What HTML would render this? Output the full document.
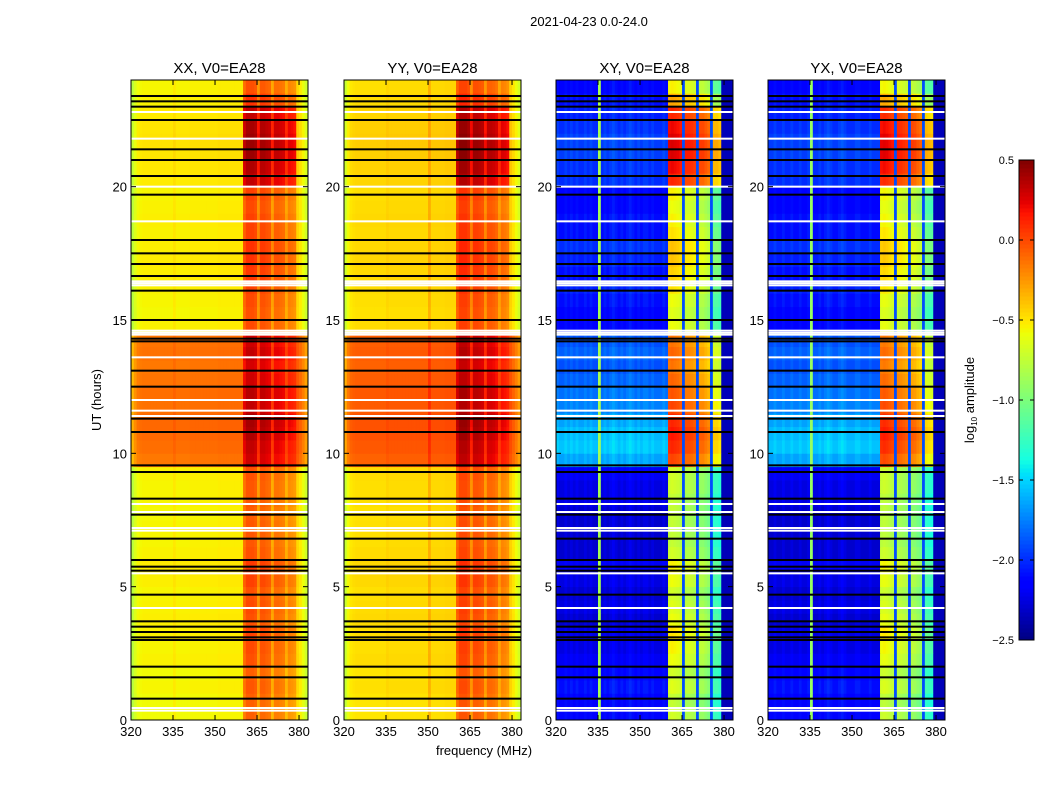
<!DOCTYPE html>
<html><head><meta charset="utf-8"><style>
body{margin:0;background:#fff;font-family:"Liberation Sans",sans-serif}
svg text{font-family:"Liberation Sans",sans-serif}
</style></head><body>
<svg id="fig" width="1050" height="800" xmlns="http://www.w3.org/2000/svg">
<rect width="1050" height="800" fill="#fff"/>
<text x="589" y="26" font-size="13" text-anchor="middle">2021-04-23 0.0-24.0</text>
<text x="101" y="400" font-size="13" text-anchor="middle" transform="rotate(-90 101 400)">UT (hours)</text>
<text x="484" y="755" font-size="13" text-anchor="middle">frequency (MHz)</text>
<g id="panels"></g>
<g id="cbar"></g>
<text x="974" y="400" font-size="13" text-anchor="middle" transform="rotate(-90 974 400)">log<tspan font-size="8" dy="3">10</tspan><tspan dy="-3"> amplitude</tspan></text>
</svg>
<script>
// ---- data ----
const panelTitles = ["XX, V0=EA28","YY, V0=EA28","XY, V0=EA28","YX, V0=EA28"];
const xTicks = [320,335,350,365,380];
const yTicks = [0,5,10,15,20];
const cbarTicks = [0.5,0.0,-0.5,-1.0,-1.5,-2.0,-2.5];
// frequency profiles, 1 MHz channels starting at 320 MHz
const freqXX = [-0.8,-0.68,-0.6,-0.58,-0.57,-0.57,-0.57,-0.57,-0.57,-0.57,-0.57,-0.57,-0.57,-0.57,-0.57,-0.53,-0.57,-0.57,-0.57,-0.57,-0.57,-0.56,-0.56,-0.56,-0.56,-0.56,-0.56,-0.56,-0.56,-0.56,-0.56,-0.55,-0.55,-0.55,-0.55,-0.55,-0.55,-0.55,-0.55,-0.55,-0.22,-0.12,-0.12,-0.12,-0.15,-0.35,-0.15,-0.15,-0.18,-0.2,-0.4,-0.22,-0.22,-0.24,-0.26,-0.42,-0.3,-0.32,-0.35,-0.48,-0.54,-0.62,-0.72,-0.82];
const freqYY = [-0.75,-0.6,-0.53,-0.51,-0.5,-0.5,-0.5,-0.5,-0.5,-0.5,-0.5,-0.5,-0.5,-0.5,-0.5,-0.47,-0.49,-0.49,-0.49,-0.49,-0.49,-0.49,-0.49,-0.49,-0.49,-0.49,-0.49,-0.49,-0.49,-0.49,-0.35,-0.48,-0.48,-0.48,-0.48,-0.48,-0.47,-0.47,-0.47,-0.47,-0.18,-0.08,-0.08,-0.08,-0.12,-0.32,-0.12,-0.12,-0.14,-0.16,-0.35,-0.18,-0.18,-0.2,-0.24,-0.4,-0.28,-0.3,-0.34,-0.46,-0.53,-0.61,-0.7,-0.78];
const freqXY = [-2.15,-2.2,-2.2,-2.15,-2.2,-2.15,-2.2,-2.15,-2.2,-2.2,-2.15,-2.2,-2.15,-2.2,-2.2,-0.85,-2.2,-2.15,-2.2,-2.15,-2.1,-2.15,-2.2,-2.15,-2.2,-2.15,-2.1,-2.15,-2.2,-2.15,-2.2,-2.15,-2.15,-2.2,-2.15,-2.2,-2.2,-2.2,-2.15,-2.2,-0.8,-0.78,-0.8,-0.82,-0.85,-1.9,-0.9,-0.9,-0.92,-0.95,-1.9,-1.0,-1.0,-1.05,-1.1,-1.9,-1.35,-1.35,-1.4,-2.35,-2.35,-2.35,-2.35,-2.35];
const freqYX = [-2.2,-2.2,-2.15,-2.2,-2.2,-2.15,-2.2,-2.2,-2.15,-2.2,-2.2,-2.15,-2.2,-2.2,-2.15,-0.9,-2.2,-2.2,-2.15,-2.2,-2.15,-2.1,-2.15,-2.2,-2.2,-2.15,-2.1,-2.15,-2.2,-2.2,-2.2,-2.15,-2.15,-2.2,-2.2,-2.2,-2.15,-2.2,-2.2,-2.2,-0.82,-0.8,-0.82,-0.85,-0.88,-1.9,-0.9,-0.92,-0.95,-0.98,-1.9,-1.0,-1.02,-1.08,-1.12,-1.9,-1.35,-1.38,-1.42,-2.35,-2.35,-2.35,-2.35,-2.35];
// column type: 0 continuum, 1 band, 2 fixed (no time variation)
const colTypeAuto = [0,0,0,0,0,0,0,0,0,0,0,0,0,0,0,0,0,0,0,0,0,0,0,0,0,0,0,0,0,0,0,0,0,0,0,0,0,0,0,0,1,1,1,1,1,1,1,1,1,1,1,1,1,1,1,1,1,1,1,0,0,0,0,0];
const colTypeCross = [0,0,0,0,0,0,0,0,0,0,0,0,0,0,0,2,0,0,0,0,0,0,0,0,0,0,0,0,0,0,0,0,0,0,0,0,0,0,0,0,1,1,1,1,1,2,1,1,1,1,2,1,1,1,1,2,1,1,1,2,2,2,2,2];
// time profiles, half-hour rows from 0 h
const contAuto = [0,0,0.02,0,0.03,0.02,0.03,0.04,0.03,0.02,0.04,0.05,0.03,0.02,0.02,0.01,0.02,0.02,0.03,0.42,0.45,0.47,0.47,0.44,0.45,0.43,0.42,0.44,0.43,0.03,0.01,0.02,0.03,0.04,0.05,0.04,0.03,0.04,0.03,0.02,0.05,0.06,0.07,0.08,0.07,0.05,0.03,0.02];
const bandAuto = [0.05,0.05,0.08,0.05,0.1,0.12,0.15,0.1,0.12,0.1,0.15,0.18,0.1,0.08,0.08,0.06,0.08,0.08,0.1,0.42,0.45,0.5,0.52,0.45,0.48,0.42,0.4,0.45,0.42,0.12,0.1,0.12,0.15,0.18,0.2,0.2,0.15,0.15,0.12,0.15,0.45,0.5,0.55,0.55,0.52,0.45,0.2,0.1];
const contCross = [0.05,0.05,0.1,0.05,0,-0.05,-0.05,-0.1,-0.05,-0.1,-0.05,0,-0.1,-0.1,-0.1,-0.1,-0.05,-0.05,0,0.55,0.65,0.62,0.55,0.45,0.4,0.35,0.3,0.35,0.3,0.05,0.05,0.1,0.15,0.1,0.15,0.2,0.1,0.1,0.05,0.05,0.2,0.2,0.25,0.25,0.2,0.15,0.1,0.05];
const bandCross = [0.1,0.05,0.15,0.1,0.2,0.25,0.3,0.2,0.15,0.1,0.2,0.25,0.1,0.05,0.05,0.05,0.05,0.1,0.1,0.8,0.9,0.95,0.9,0.8,0.75,0.7,0.65,0.7,0.65,0.2,0.15,0.2,0.3,0.35,0.4,0.4,0.3,0.25,0.2,0.25,0.9,1.0,1.05,1.05,1.0,0.9,0.5,0.25];
// flagged times (hours)
const blackLines = [0.8,1.6,2.0,3.0,3.1,3.3,3.5,3.7,4.7,5.6,5.75,6.0,6.8,7.7,8.3,9.3,9.55,10.8,11.3,12.5,13.1,14.2,14.3,15.0,16.1,16.65,17.1,17.5,18.0,19.7,20.4,21.0,21.4,22.5,23.0,23.2,23.4];
const whiteLines = [0.35,0.45,4.2,5.5,7.1,7.2,7.8,8.1,11.4,11.6,12.0,13.6,14.45,14.52,14.6,16.3,16.38,16.45,18.7,20.0,21.8,22.8];

const freqs=[freqXX,freqYY,freqXY,freqYX];
const colTypes=[colTypeAuto,colTypeAuto,colTypeCross,colTypeCross];
const conts=[contAuto,contAuto,contCross,contCross];
const bands=[bandAuto,bandAuto,bandCross,bandCross];
const panelX=[131,344,556,768], PW=177, PT=80, PB=720;
const FMIN=320, FMAX=383.2, TMAX=24, VMIN=-2.5, VMAX=0.5;

function seg(t,pts){for(let i=1;i<pts.length;i++){if(t<=pts[i][0]){const a=pts[i-1],b=pts[i];return a[1]+(b[1]-a[1])*(t-a[0])/(b[0]-a[0]);}}return pts[pts.length-1][1];}
const JR=[[0,0],[0.35,0],[0.66,1],[0.89,1],[1,0.5]];
const JG=[[0,0],[0.125,0],[0.375,1],[0.64,1],[0.91,0],[1,0]];
const JB=[[0,0.5],[0.11,1],[0.34,1],[0.65,0],[1,0]];
function jet(v){
  let t=(v-VMIN)/(VMAX-VMIN); t=Math.max(0,Math.min(1,t));
  return `rgb(${Math.round(seg(t,JR)*255)},${Math.round(seg(t,JG)*255)},${Math.round(seg(t,JB)*255)})`;
}
const NS="http://www.w3.org/2000/svg";
function mk(tag,attrs,parent){const e=document.createElementNS(NS,tag);for(const k in attrs)e.setAttribute(k,attrs[k]);parent.appendChild(e);return e;}
const root=document.getElementById('panels');

for(let p=0;p<4;p++){
  const x0=panelX[p];
  const xs=f=>x0+(f-FMIN)/(FMAX-FMIN)*PW;
  const ys=t=>PB-t/TMAX*(PB-PT);
  const g=mk('g',{},root);
  
  
  const fp=freqs[p], ct=colTypes[p], tc=conts[p], tb=bands[p];
  for(let r=0;r<tc.length;r++){
    for(let c=0;c<fp.length;c++){
      const f0=FMIN+c, f1=Math.min(FMIN+c+1,FMAX);
      if(f0>=FMAX)continue;
      const v=fp[c]+(ct[c]===1?tb[r]:(ct[c]===0?tc[r]:0));
      const y1=ys(r*0.5), y0=ys((r+1)*0.5);
      const cell=mk('rect',{x:xs(f0).toFixed(2),y:y0.toFixed(2),width:(xs(f1)-xs(f0)+0.4).toFixed(2),height:(y1-y0+0.4).toFixed(2),fill:jet(v)},g);
      
      
    }
  }
  blackLines.forEach(t=>{const l=mk('rect',{x:x0,y:ys(t)-1,width:PW,height:2,fill:'#000'},g);
    
    });
  whiteLines.forEach(t=>{const l=mk('rect',{x:x0,y:ys(t)-1,width:PW,height:2,fill:'#fff'},g);
    
    });
  const fr=mk('rect',{x:x0,y:PT,width:PW,height:PB-PT,fill:'none',stroke:'#000','stroke-width':1},g);
  
  
  const tt=mk('text',{x:x0+PW/2,y:PT-7,'font-size':15,'text-anchor':'middle'},g);
  tt.textContent=panelTitles[p];
  
  
  xTicks.forEach(f=>{const x=xs(f);
    mk('line',{x1:x,x2:x,y1:PB,y2:PB-5,stroke:'#000'},g);mk('line',{x1:x,x2:x,y1:PT,y2:PT+5,stroke:'#000'},g);
    const t=mk('text',{x:x,y:PB+16,'font-size':13,'text-anchor':'middle'},g);t.textContent=f;
    
    });
  yTicks.forEach(h=>{const y=ys(h);
    mk('line',{x1:x0,x2:x0+5,y1:y,y2:y,stroke:'#000'},g);mk('line',{x1:x0+PW,x2:x0+PW-5,y1:y,y2:y,stroke:'#000'},g);
    const t=mk('text',{x:x0-4,y:y+5,'font-size':13,'text-anchor':'end'},g);t.textContent=h;
    
    });
}
// colorbar
const cb=document.getElementById('cbar');
const CX=1019,CW=15,CT=160,CB=640;
for(let i=0;i<120;i++){
  const v=VMIN+(i+0.5)/120*(VMAX-VMIN);
  mk('rect',{x:CX,y:(CB-(i+1)*(CB-CT)/120).toFixed(2),width:CW,height:((CB-CT)/120+0.5).toFixed(2),fill:jet(v)},cb);
}
mk('rect',{x:CX,y:CT,width:CW,height:CB-CT,fill:'none',stroke:'#000','stroke-width':1},cb);
cbarTicks.forEach(v=>{const y=CB-(v-VMIN)/(VMAX-VMIN)*(CB-CT);
  mk('line',{x1:CX,x2:CX+4,y1:y,y2:y,stroke:'#000'},cb);mk('line',{x1:CX+CW,x2:CX+CW-4,y1:y,y2:y,stroke:'#000'},cb);
  const t=mk('text',{x:CX-5,y:y+4,'font-size':11,'text-anchor':'end'},cb);t.textContent=(v<0?'\u2212':'')+Math.abs(v).toFixed(1);
  
  });
</script>
</body></html>
